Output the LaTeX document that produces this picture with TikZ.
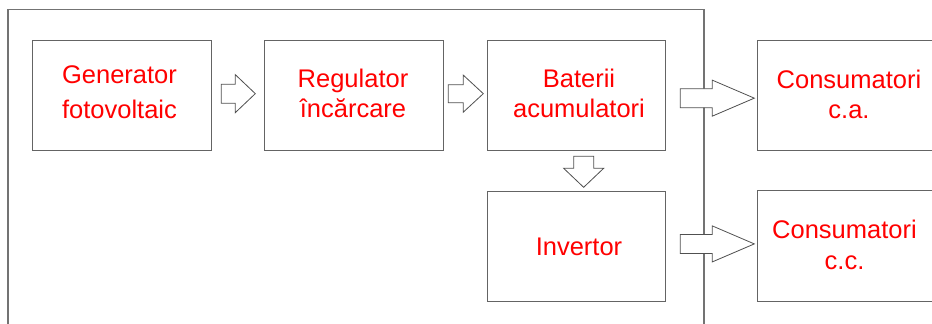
\documentclass[tikz,border=0pt]{standalone}
\usepackage{fontspec}
\setmainfont{Liberation Sans}
\usetikzlibrary{calc}
\definecolor{boxgray}{RGB}{100,100,100}
\definecolor{framegray}{RGB}{115,115,115}
\definecolor{arrgray}{RGB}{80,80,80}
\tikzset{
  blockbox/.style={draw=boxgray, line width=1.3pt, fill=none, inner sep=0pt, anchor=north west},
  lbl/.style={text=red, align=center, inner sep=0pt, font=\fontsize{25.5}{30}\selectfont},
  blk/.style={draw=arrgray, line width=0.8pt, fill=white, line join=miter},
  frameline/.style={draw=framegray, line width=1.3pt}
}
% right-pointing block arrow: start, shaft length, head length, shaft half, head half
\newcommand\rblk[5]{\draw[blk] (#1) +(0,-#4) -- +(#2,-#4) -- +(#2,-#5) -- +(#2+#3,0) -- +(#2,#5) -- +(#2,#4) -- +(0,#4) -- cycle;}
% downward block arrow (y axis points down)
\newcommand\dblk[5]{\draw[blk] (#1) +(-#4,0) -- +(-#4,#2) -- +(-#5,#2) -- +(0,#2+#3) -- +(#5,#2) -- +(#4,#2) -- +(#4,0) -- cycle;}
\begin{document}
\begin{tikzpicture}[x=1pt,y=-1pt]
\useasboundingbox (0,0) rectangle (932,324);
\fill[white] (0,0) rectangle (932,324);
% outer frame (open at the bottom)
\coordinate (fbl) at (8,324);
\coordinate (ftl) at (8,9.5);
\coordinate (ftr) at (704,9.5);
\coordinate (fbr) at (704,324);
\draw[frameline] (fbl) -- (ftl) -- (ftr) -- (fbr);
% boxes
\node[blockbox, minimum width=179.5pt, minimum height=110pt] (gen) at (31.5,40) {};
\node[blockbox, minimum width=179.5pt, minimum height=110pt] (reg) at (263.5,40) {};
\node[blockbox, minimum width=178pt, minimum height=110pt] (bat) at (487,40) {};
\node[blockbox, minimum width=184pt, minimum height=110pt] (ca) at (757,40) {};
\node[blockbox, minimum width=178pt, minimum height=109.5pt] (inv) at (487,191) {};
\node[blockbox, minimum width=184pt, minimum height=110.5pt] (cc) at (757,190) {};
% labels
\node[lbl, font=\fontsize{25.5}{35}\selectfont] (tgen) at (119.5,92.5) {Generator\\fotovoltaic};
\node[lbl] (treg) at (353,93.5) {Regulator\\încărcare};
\node[lbl] (tbat) at (579,93.5) {Baterii\\acumulatori};
\node[lbl] (tca) at (849,94) {Consumatori\\c.a.};
\node[lbl, font=\fontsize{25.5}{31}\selectfont] (tcc) at (844.5,244.5) {Consumatori\\c.c.};
\node[lbl] (tinv) at (579,247) {Invertor};
% block arrows
\rblk{$(gen.east)+(9,-2)$}{14}{20}{9.5}{19}
\rblk{$(reg.east)+(4,-2)$}{15}{20}{9}{18.5}
\rblk{$(bat.east)+(14,2.5)$}{32}{42}{9.5}{18}
\rblk{$(inv.east)+(14,-2.5)$}{32}{42}{9.5}{18}
\dblk{$(bat.south)+(7,5)$}{12}{19}{10}{20}
\end{tikzpicture}
\end{document}
